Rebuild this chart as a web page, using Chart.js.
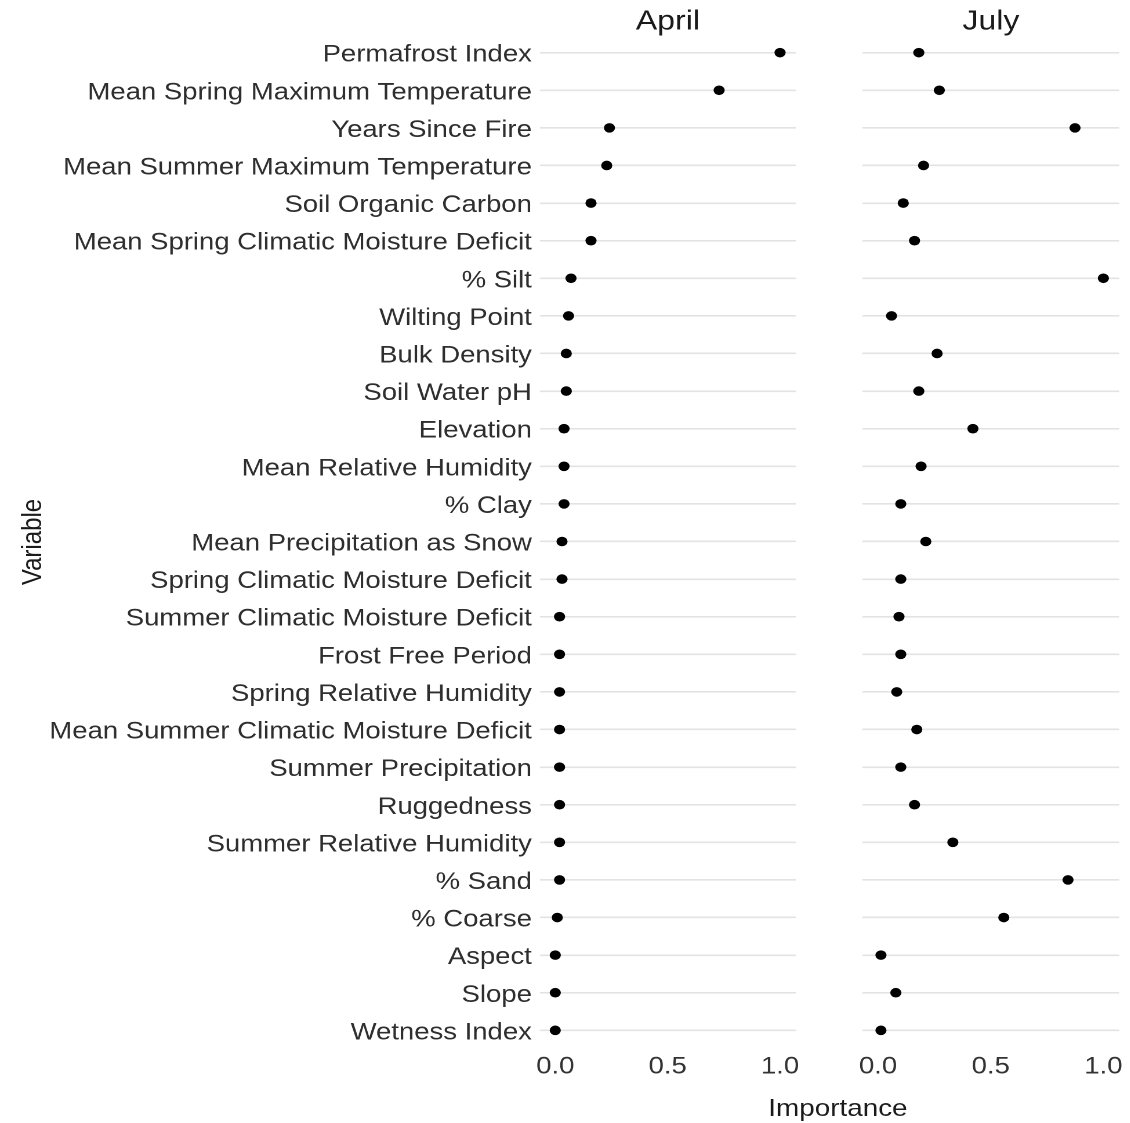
<!DOCTYPE html>
<html>
<head>
<meta charset="utf-8">
<title>Variable importance by month</title>
<script src="https://cdn.jsdelivr.net/npm/chart.js@4.4.1/dist/chart.umd.min.js"></script>
<style>
  html, body { margin: 0; padding: 0; background: #fff; overflow: hidden; }
  /* the whole figure is laid out at 974px wide and widened to 1130px */
  #stage { position: absolute; left: 0; top: 0; width: 974px; height: 1123px;
           transform: scaleX(1.16); transform-origin: 0 0; }
  #april { position: absolute; left: 0; top: 0; }
  #july  { position: absolute; left: 700px; top: 0; }
  #xtitle { position: absolute; left: 572.4px; width: 300px; top: 1095.7px;
            text-align: center; font: 24px "Liberation Sans", Arial, sans-serif;
            line-height: 24px; color: #1a1a1a; }
</style>
</head>
<body>
<div id="stage">
  <canvas id="april" width="700" height="1123"></canvas>
  <canvas id="july" width="274.1" height="1123"></canvas>
  <div id="xtitle">Importance</div>
</div>
<script>
// Predictors, listed from top to bottom
const variables = [
  'Permafrost Index',
  'Mean Spring Maximum Temperature',
  'Years Since Fire',
  'Mean Summer Maximum Temperature',
  'Soil Organic Carbon',
  'Mean Spring Climatic Moisture Deficit',
  '% Silt',
  'Wilting Point',
  'Bulk Density',
  'Soil Water pH',
  'Elevation',
  'Mean Relative Humidity',
  '% Clay',
  'Mean Precipitation as Snow',
  'Spring Climatic Moisture Deficit',
  'Summer Climatic Moisture Deficit',
  'Frost Free Period',
  'Spring Relative Humidity',
  'Mean Summer Climatic Moisture Deficit',
  'Summer Precipitation',
  'Ruggedness',
  'Summer Relative Humidity',
  '% Sand',
  '% Coarse',
  'Aspect',
  'Slope',
  'Wetness Index'
];

// Scaled importance per month
const aprilImportance = [
  1.000, 0.729, 0.241, 0.229, 0.159, 0.159, 0.070, 0.059, 0.049,
  0.049, 0.039, 0.039, 0.039, 0.030, 0.030, 0.019, 0.019, 0.019,
  0.019, 0.019, 0.019, 0.019, 0.019, 0.009, 0.000, 0.000, 0.000
];
const julyImportance = [
  0.181, 0.272, 0.874, 0.202, 0.112, 0.162, 1.000, 0.060, 0.262,
  0.181, 0.421, 0.191, 0.101, 0.212, 0.101, 0.093, 0.101, 0.083,
  0.172, 0.101, 0.162, 0.332, 0.843, 0.558, 0.013, 0.079, 0.013
];

const panelTitles = ['April', 'July'];
const xTickValues = [0, 0.5, 1.0];

const FONT = '"Liberation Sans", Arial, sans-serif';
Chart.defaults.font.family = FONT;

// Facet strip title above each panel, plus the rotated y title on the first panel
const panelText = {
  id: 'panelText',
  afterDraw(chart, args, opts) {
    const ctx = chart.ctx;
    const area = chart.chartArea;
    ctx.save();
    ctx.fillStyle = '#1a1a1a';
    ctx.font = '27.6px ' + FONT;
    ctx.textAlign = 'center';
    ctx.textBaseline = 'alphabetic';
    ctx.fillText(opts.title, (area.left + area.right) / 2, 29.3);
    if (opts.yTitle) {
      ctx.translate(35.4, 542);
      ctx.rotate(-Math.PI / 2);
      ctx.font = '24px ' + FONT;
      ctx.fillStyle = '#1a1a1a';
      ctx.fillText(opts.yTitle, 0, 0);
    }
    ctx.restore();
  }
};

function buildPanel(canvasId, title, values, opts) {
  return new Chart(document.getElementById(canvasId), {
    type: 'scatter',
    data: {
      datasets: [{
        data: values.map((v, i) => ({ x: v, y: i })),
        backgroundColor: '#000',
        borderWidth: 0,
        pointRadius: 4.8,
        pointHoverRadius: 4.8
      }]
    },
    plugins: [panelText],
    options: {
      responsive: false,
      animation: false,
      devicePixelRatio: 2,
      layout: { padding: { top: 30.1, right: opts.rightPad, left: 0, bottom: 0 } },
      plugins: {
        legend: { display: false },
        tooltip: { enabled: false },
        panelText: { title: title, yTitle: opts.yTitle }
      },
      scales: {
        x: {
          type: 'linear',
          min: -0.068,
          max: 1.07,
          afterBuildTicks: s => { s.ticks = xTickValues.map(v => ({ value: v })); },
          afterFit: s => { s.height = 70.1; },
          grid: { display: false, drawTicks: false },
          border: { display: false },
          ticks: {
            padding: 0,
            color: '#333',
            font: { size: 23.7 },
            maxRotation: 0,
            autoSkip: false,
            callback: v => Number(v).toFixed(1)
          }
        },
        y: {
          type: 'linear',
          reverse: true,
          min: -0.6,
          max: variables.length - 0.4,
          afterBuildTicks: s => { s.ticks = variables.map((_, i) => ({ value: i })); },
          afterFit: s => { s.width = opts.yWidth; },
          grid: { color: '#e3e3e3', lineWidth: 1.6, drawTicks: false },
          border: { display: false },
          ticks: {
            display: opts.showLabels,
            padding: 7,
            labelOffset: 2.5,
            color: '#2e2e2e',
            font: { size: 23.7 },
            autoSkip: false,
            callback: v => variables[v]
          }
        }
      }
    }
  });
}

buildPanel('april', panelTitles[0], aprilImportance,
  { showLabels: true, yWidth: 465.5, rightPad: 14, yTitle: 'Variable' });
buildPanel('july', panelTitles[1], julyImportance,
  { showLabels: false, yWidth: 43.7, rightPad: 9.2 });
</script>
</body>
</html>
